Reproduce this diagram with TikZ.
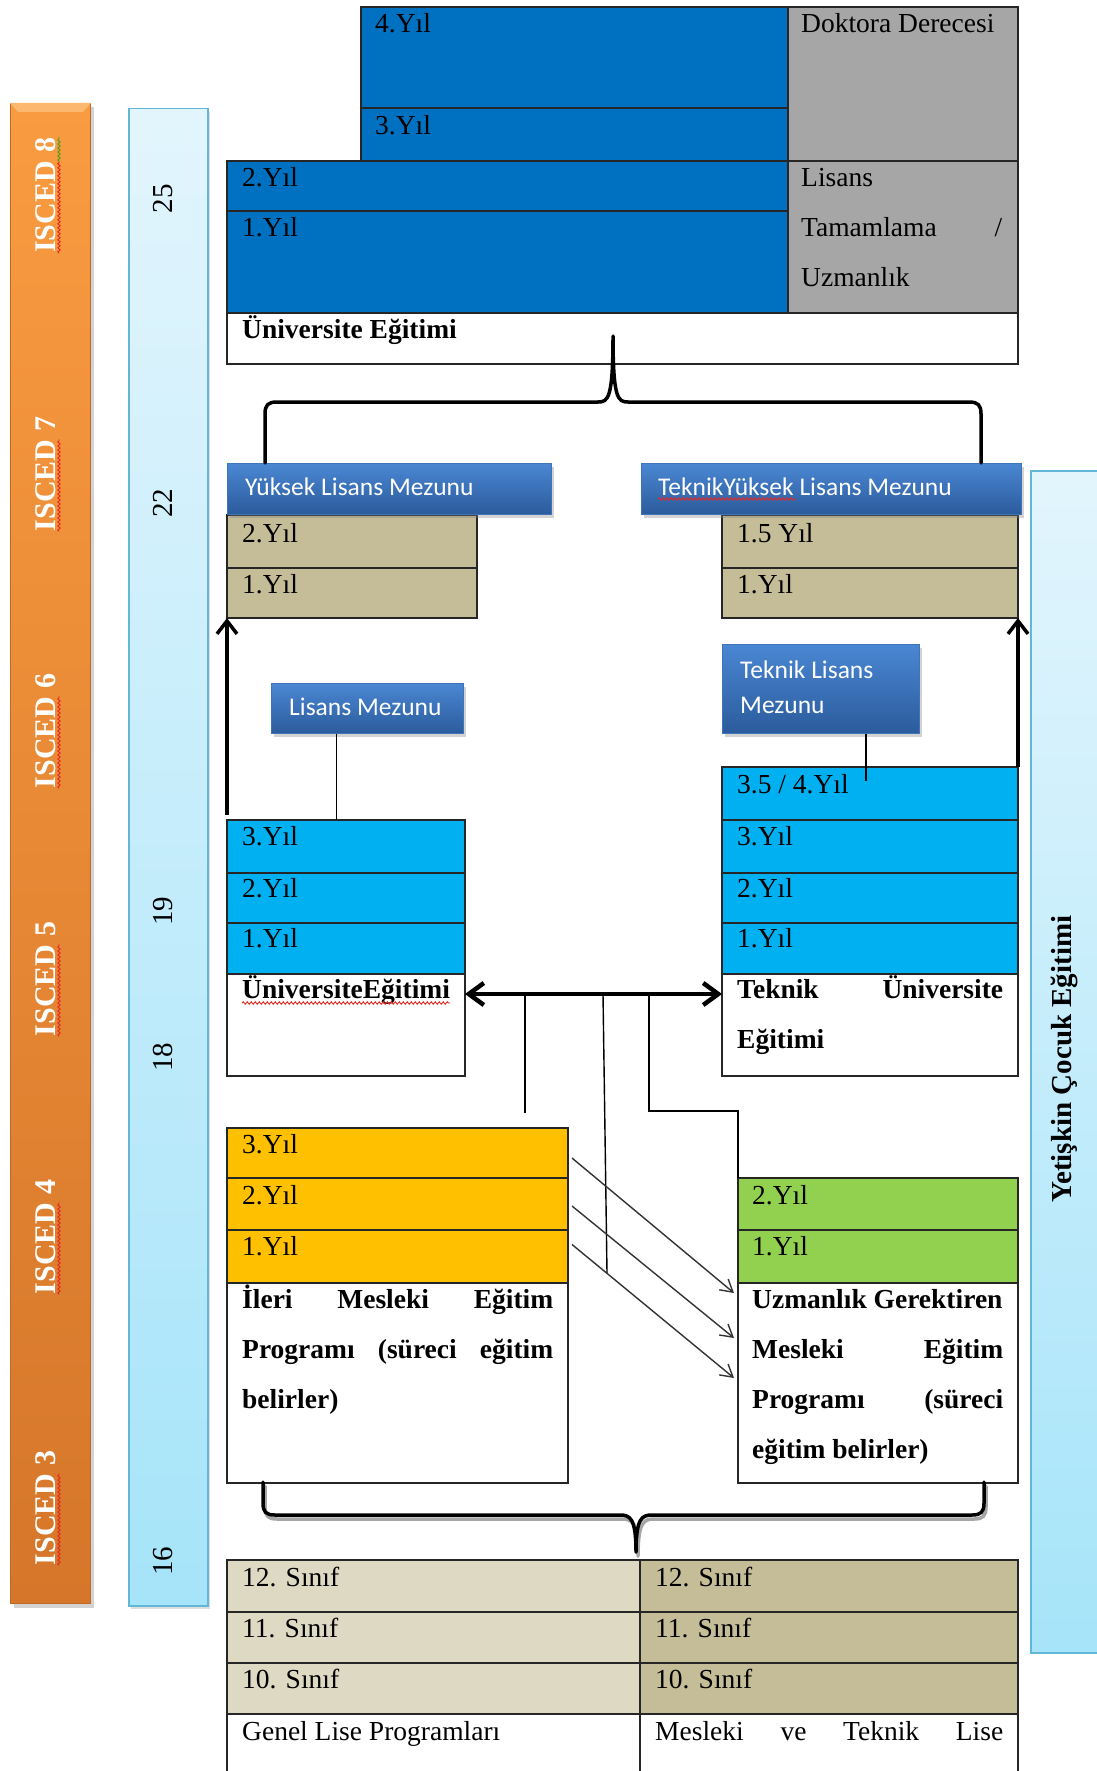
\documentclass[tikz,border=0pt]{standalone}
\usepackage{fontspec}
\setmainfont{Liberation Serif}
\newfontfamily\lblfont{Carlito}
\usetikzlibrary{arrows.meta,shadows,calc,decorations.pathmorphing}

\definecolor{dblue}{HTML}{0070C0}
\definecolor{greyc}{HTML}{A6A6A6}
\definecolor{cyanc}{HTML}{00B0F0}
\definecolor{orangec}{HTML}{FFC000}
\definecolor{greenc}{HTML}{92D050}
\definecolor{beigec}{HTML}{C4BD97}
\definecolor{lbeigec}{HTML}{DDD9C3}
\definecolor{lbtop}{HTML}{4A87D3}
\definecolor{lbbot}{HTML}{2B5B9C}
\definecolor{lbedge}{HTML}{3F74B8}
\definecolor{obtop}{HTML}{F99B40}
\definecolor{obbot}{HTML}{D5762A}
\definecolor{obedge}{HTML}{C06A25}
\definecolor{oblight}{HTML}{FBB86E}
\definecolor{sbtop}{HTML}{E2F5FD}
\definecolor{sbbot}{HTML}{A6E4F9}
\definecolor{sbedge}{HTML}{62B6D6}
\definecolor{wavered}{HTML}{E8261E}
\definecolor{wavegreen}{HTML}{4E9A1C}

% table cell: name, x1, y1, x2, y2, fill
\newcommand\cellat[6]{%
  \node[cellst, fill=#6, minimum width={(#4)-(#2)}, minimum height={(#5)-(#3)}] (#1) at (#2,#3) {};}
% wavy underline along part of a rotated ISCED label: node, from, to, style
\newcommand\iscwave[4]{%
  \draw[#4] ([xshift=4pt]$(#1.base west)!#2!(#1.base east)$) -- ([xshift=4pt]$(#1.base west)!#3!(#1.base east)$);}

\begin{document}
\begin{tikzpicture}[x=1pt,y=-1pt,
  cellst/.style={draw=black!85, line width=1.6pt, inner sep=0pt, outer sep=0pt, anchor=north west},
  yr/.style={anchor=base west, inner sep=0pt, font=\fontsize{27.5}{33}\selectfont},
  yrb/.style={anchor=base west, inner sep=0pt, font=\fontsize{27.5}{33}\selectfont\bfseries},
  lblbox/.style={anchor=north west, inner sep=0pt, top color=lbtop, bottom color=lbbot, draw=lbedge, line width=0.8pt,
    drop shadow={shadow xshift=3pt, shadow yshift=-4pt, opacity=0.35}},
  lbltxt/.style={anchor=base west, inner sep=0pt, text=white, font=\lblfont\fontsize{25.5}{30}\selectfont},
  sidebar/.style={anchor=north west, inner sep=0pt, top color=sbtop, bottom color=sbbot, draw=sbedge, line width=1.5pt},
  iscbar/.style={anchor=north west, inner sep=0pt, top color=obtop, bottom color=obbot, draw=obedge, line width=1pt,
    drop shadow={shadow xshift=3pt, shadow yshift=-4pt, opacity=0.35}},
  isclbl/.style={rotate=90, anchor=base, inner sep=0pt, text=white, font=\fontsize{30}{36}\selectfont\bfseries},
  agelbl/.style={rotate=90, anchor=base, inner sep=0pt, font=\fontsize{29}{34}\selectfont},
  brace/.style={line width=3.5pt, line cap=round, line join=round},
  bigarrow/.style={line width=3.5pt, -{Straight Barb[length=13pt,width=20pt]}},
  dblarrow/.style={line width=4.5pt, {Straight Barb[length=15pt,width=22pt]}-{Straight Barb[length=15pt,width=22pt]}},
  thinline/.style={line width=1.4pt},
  diag/.style={line width=1.4pt, draw=black!80, -{Straight Barb[length=12pt,width=14pt]}},
  redwave/.style={draw=wavered, line width=0.9pt, decorate, decoration={snake, amplitude=1.2pt, segment length=4pt}},
  greenwave/.style={draw=wavegreen, line width=0.9pt, decorate, decoration={snake, amplitude=1.2pt, segment length=4pt}},
]
\useasboundingbox (0,0) rectangle (1096,1771);

% ---------- ISCED level bar ----------
\node[iscbar, minimum width=80, minimum height=1500] (iscbar) at (10,103) {};
\fill[oblight] (iscbar.north west) -- (iscbar.north east) -- ++(-8,9) -- ($(iscbar.north west)+(8,9)$) -- cycle;
\node[isclbl] (isc8) at (55,195) {ISCED\hspace{9pt}8};
\node[isclbl] (isc7) at (55,474) {ISCED 7};
\node[isclbl] (isc6) at (55,731) {ISCED 6};
\node[isclbl] (isc5) at (55,979) {ISCED 5};
\node[isclbl] (isc4) at (55,1237) {ISCED 4};
\node[isclbl] (isc3) at (55,1508) {ISCED 3};
\iscwave{isc8}{0}{0.79}{redwave}
\iscwave{isc8}{0.79}{1}{greenwave}
\iscwave{isc7}{0}{0.803}{redwave}
\iscwave{isc6}{0}{0.803}{redwave}
\iscwave{isc5}{0}{0.803}{redwave}
\iscwave{isc4}{0}{0.803}{redwave}
\iscwave{isc3}{0}{0.803}{redwave}

% ---------- age bar ----------
\node[sidebar, minimum width=79, minimum height=1497,
  drop shadow={shadow xshift=2pt, shadow yshift=-3pt, opacity=0.25}] (agebar) at (128,108) {};
\node[agelbl] (a25) at (172,199) {25};
\node[agelbl] (a22) at (172,503) {22};
\node[agelbl] (a19) at (172,911) {19};
\node[agelbl] (a18) at (172,1057) {18};
\node[agelbl] (a16) at (172,1561) {16};

% ---------- adult education bar ----------
\node[sidebar, minimum width=90, minimum height=1182] (adultbar) at (1030,470) {};
\node[isclbl, text=black, font=\fontsize{29}{34}\selectfont\bfseries] (adulttxt) at (1071,1059) {Yetişkin Çocuk Eğitimi};

% ---------- university (top) ----------
\cellat{y4}{361}{7}{788}{108}{dblue}
\cellat{y3}{361}{108}{788}{161}{dblue}
\cellat{dok}{788}{7}{1018}{161}{greyc}
\cellat{y2}{227}{161}{788}{211}{dblue}
\cellat{y1}{227}{211}{788}{313}{dblue}
\cellat{lis}{788}{161}{1018}{313}{greyc}
\cellat{uni}{227}{313}{1018}{364}{white}
\node[yr] (t-y4) at (375,33) {4.Yıl};
\node[yr] (t-y3) at (375,135) {3.Yıl};
\node[yr] (t-y2) at (242,187) {2.Yıl};
\node[yr] (t-y1) at (242,237) {1.Yıl};
\node[yr] (t-dok) at (801,33) {Doktora Derecesi};
\node[yr] (t-lis1) at (801,187) {Lisans};
\node[yr] (t-lis2) at (801,237) {\makebox[201pt][s]{Tamamlama\hfill/}};
\node[yr] (t-lis3) at (801,287) {Uzmanlık};
\node[yrb] (t-uni) at (242,338) {Üniversite Eğitimi};

% ---------- master level ----------
\cellat{ylL2}{227}{515}{477}{568}{beigec}
\cellat{ylL1}{227}{568}{477}{618}{beigec}
\node[yr] (t-ylL2) at (242,542) {2.Yıl};
\node[yr] (t-ylL1) at (242,593) {1.Yıl};
\cellat{tyR2}{722}{515}{1018}{568}{beigec}
\cellat{tyR1}{722}{568}{1018}{618}{beigec}
\node[yr] (t-tyR2) at (737,542) {1.5 Yıl};
\node[yr] (t-tyR1) at (737,593) {1.Yıl};

\node[lblbox, minimum width=324, minimum height=51] (ylm) at (227,463) {};
\node[lbltxt] (t-ylm) at (245,495) {Yüksek Lisans Mezunu};
\node[lblbox, minimum width=380, minimum height=51] (tylm) at (641,463) {};
\node[lbltxt] (t-tylm) at (658,495) {TeknikYüksek Lisans Mezunu};
\draw[redwave] ([yshift=-4pt]t-tylm.base west) -- ([yshift=-4pt]$(t-tylm.base west)!0.468!(t-tylm.base east)$);

% ---------- bachelor level ----------
\cellat{ucL3}{227}{820}{465}{873}{cyanc}
\cellat{ucL2}{227}{873}{465}{923}{cyanc}
\cellat{ucL1}{227}{923}{465}{974}{cyanc}
\cellat{ucL0}{227}{974}{465}{1076}{white}
\node[yr] (t-ucL3) at (242,845) {3.Yıl};
\node[yr] (t-ucL2) at (242,897) {2.Yıl};
\node[yr] (t-ucL1) at (242,947) {1.Yıl};
\node[yrb] (t-ucL0) at (242,998) {ÜniversiteEğitimi};
\draw[redwave] ([yshift=-5pt]t-ucL0.base west) -- ([yshift=-5pt]t-ucL0.base east);

\cellat{tcR4}{722}{767}{1018}{820}{cyanc}
\cellat{tcR3}{722}{820}{1018}{873}{cyanc}
\cellat{tcR2}{722}{873}{1018}{923}{cyanc}
\cellat{tcR1}{722}{923}{1018}{974}{cyanc}
\cellat{tcR0}{722}{974}{1018}{1076}{white}
\node[yr] (t-tcR4) at (737,793) {3.5 / 4.Yıl};
\node[yr] (t-tcR3) at (737,845) {3.Yıl};
\node[yr] (t-tcR2) at (737,897) {2.Yıl};
\node[yr] (t-tcR1) at (737,947) {1.Yıl};
\node[yrb] (t-tcR0a) at (737,998) {\makebox[266pt][s]{Teknik\hfill Üniversite}};
\node[yrb] (t-tcR0b) at (737,1048) {Eğitimi};

\node[lblbox, minimum width=192, minimum height=50] (lm) at (271,683) {};
\node[lbltxt] (t-lm) at (289,715) {Lisans Mezunu};
\node[lblbox, minimum width=197, minimum height=89] (tlm) at (722,644) {};
\node[lbltxt] (t-tlm1) at (740,678) {Teknik Lisans};
\node[lbltxt] (t-tlm2) at (740,713) {Mezunu};

% ---------- vocational programmes ----------
\cellat{or3}{227}{1128}{568}{1178}{orangec}
\cellat{or2}{227}{1178}{568}{1230}{orangec}
\cellat{or1}{227}{1230}{568}{1283}{orangec}
\cellat{or0}{227}{1283}{568}{1483}{white}
\node[yr] (t-or3) at (242,1153) {3.Yıl};
\node[yr] (t-or2) at (242,1204) {2.Yıl};
\node[yr] (t-or1) at (242,1255) {1.Yıl};
\node[yrb] (t-or0a) at (242,1308) {\makebox[311pt][s]{İleri\hfill Mesleki\hfill Eğitim}};
\node[yrb] (t-or0b) at (242,1358) {\makebox[311pt][s]{Programı\hfill (süreci\hfill eğitim}};
\node[yrb] (t-or0c) at (242,1408) {belirler)};

\cellat{gr2}{738}{1178}{1018}{1230}{greenc}
\cellat{gr1}{738}{1230}{1018}{1283}{greenc}
\cellat{gr0}{738}{1283}{1018}{1483}{white}
\node[yr] (t-gr2) at (752,1204) {2.Yıl};
\node[yr] (t-gr1) at (752,1255) {1.Yıl};
\node[yrb] (t-gr0a) at (752,1308) {Uzmanlık Gerektiren};
\node[yrb] (t-gr0b) at (752,1358) {\makebox[251pt][s]{Mesleki\hfill Eğitim}};
\node[yrb] (t-gr0c) at (752,1408) {\makebox[251pt][s]{Programı\hfill (süreci}};
\node[yrb] (t-gr0d) at (752,1458) {eğitim belirler)};

% ---------- high school ----------
\cellat{gl3}{227}{1560}{640}{1612}{lbeigec}
\cellat{gl2}{227}{1612}{640}{1663}{lbeigec}
\cellat{gl1}{227}{1663}{640}{1714}{lbeigec}
\cellat{gl0}{227}{1714}{640}{1795}{white}
\cellat{ml3}{640}{1560}{1018}{1612}{beigec}
\cellat{ml2}{640}{1612}{1018}{1663}{beigec}
\cellat{ml1}{640}{1663}{1018}{1714}{beigec}
\cellat{ml0}{640}{1714}{1018}{1795}{white}
\node[yr] (t-gl3) at (242,1586) {12. Sınıf};
\node[yr] (t-gl2) at (242,1637) {11. Sınıf};
\node[yr] (t-gl1) at (242,1688) {10. Sınıf};
\node[yr] (t-gl0) at (242,1740) {Genel Lise Programları};
\node[yr] (t-ml3) at (655,1586) {12. Sınıf};
\node[yr] (t-ml2) at (655,1637) {11. Sınıf};
\node[yr] (t-ml1) at (655,1688) {10. Sınıf};
\node[yr] (t-ml0) at (655,1740) {\makebox[348pt][s]{Mesleki\hfill ve\hfill Teknik\hfill Lise}};

% ---------- braces ----------
\draw[brace] (265,463) -- (265,414) .. controls (265,405) and (268,402) .. (277,402)
  -- (598,402) .. controls (608,402) and (613,399) .. (613,336)
  .. controls (613,399) and (618,402) .. (628,402)
  -- (969,402) .. controls (978,402) and (981,405) .. (981,414) -- (981,463);

\def\lowbrace{(263,1482) -- (263,1503) .. controls (263,1512) and (266,1515) .. (275,1515)
  -- (620,1515) .. controls (630,1515) and (636,1518) .. (636,1552)
  .. controls (636,1518) and (642,1515) .. (652,1515)
  -- (972,1515) .. controls (981,1515) and (984,1512) .. (984,1503) -- (984,1482)}
\draw[brace, black!35, shift={(2,4)}] \lowbrace;
\draw[brace] \lowbrace;

% ---------- connectors ----------
\draw[bigarrow] ([yshift=5pt]ucL3.north west) -- (ylL1.south west);
\draw[bigarrow] (tcR4.north east) -- (tyR1.south east);
\draw[thinline] ([xshift=-31pt]lm.south) -- ([xshift=-31pt]lm.south |- ucL3.north);
\draw[thinline] ([xshift=45pt]tlm.south) -- ++(0,47);

\draw[dblarrow] ([yshift=-20pt]ucL0.north east) -- ([yshift=-20pt]tcR0.north west);
\coordinate (v1) at (525,994);
\coordinate (v1e) at (525,1113);
\coordinate (v2) at (603,994);
\coordinate (v2e) at (607,1273);
\coordinate (v3) at (649,994);
\coordinate (v3k) at (649,1111);
\draw[thinline] (v1) -- (v1e);
\draw[thinline] (v2) -- (v2e);
\draw[thinline] (v3) -- (v3k) -| (gr2.north west);

\draw[diag] ([xshift=4pt,yshift=-5pt]or3.east) -- ([xshift=-4pt,yshift=-10pt]gr0.north west);
\draw[diag] ([xshift=4pt,yshift=-2pt]or2.east) -- ([xshift=-4pt,yshift=-55pt]gr0.north west);
\draw[diag] ([xshift=4pt,yshift=12pt]or1.east) -- ([xshift=-4pt,yshift=-95pt]gr0.north west);
\end{tikzpicture}
\end{document}
